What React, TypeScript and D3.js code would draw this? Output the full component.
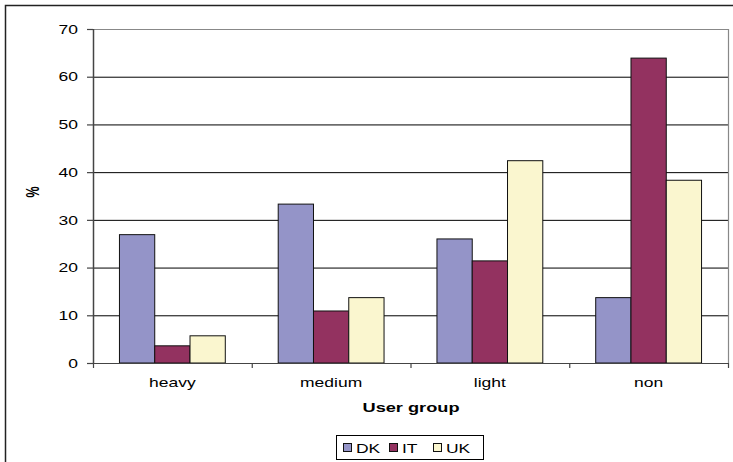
import React from "react";
import * as d3 from "d3";

const categories = ["heavy", "medium", "light", "non"];
const seriesNames = ["DK", "IT", "UK"];
const dkValues = [26.9, 33.3, 26.0, 13.7];
const itValues = [3.6, 10.9, 21.4, 63.9];
const ukValues = [5.7, 13.7, 42.4, 38.3];
const yTicks = [0, 10, 20, 30, 40, 50, 60, 70];
const colors = ["#9494C8", "#933260", "#FAF6CF"];

const W = 733;
const H = 462;
const plot = { left: 93, right: 728, top: 29, bottom: 363 };
const SX = 1.4;
const FONT = "Arial, 'Liberation Sans', sans-serif";

export default function App() {
  const series = [dkValues, itValues, ukValues];
  const x0 = d3
    .scaleBand<string>()
    .domain(categories)
    .range([plot.left, plot.right])
    .paddingInner(0)
    .paddingOuter(0);
  const bw = x0.bandwidth();
  const barW = bw / 4.5;
  const groupOffset = (bw - barW * 3) / 2;
  const y = d3.scaleLinear().domain([0, 70]).range([plot.bottom, plot.top]);

  const txt = (
    x: number,
    yy: number,
    s: string,
    opts: { anchor?: string; size?: number; bold?: boolean; rotate?: boolean; sx?: number } = {}
  ) => (
    <text
      transform={`translate(${x},${yy}) scale(${opts.sx || SX},1)${opts.rotate ? " rotate(-90)" : ""}`}
      textAnchor={opts.anchor || "middle"}
      fontSize={opts.size || 12}
      fontWeight={opts.bold ? "bold" : "normal"}
      fontFamily={FONT}
      fill="#000"
    >
      {s}
    </text>
  );

  // legend layout
  const legendX = 336;
  const legendY = 435;
  const legendItems = [
    { sq: 343, tx: 356 },
    { sq: 389, tx: 402 },
    { sq: 433, tx: 446 },
  ];

  return (
    <div style={{ position: "absolute", left: 0, top: 0 }}>
      <svg width={W} height={H} style={{ display: "block", background: "#fff" }}>
        <rect x={5.5} y={5.5} width={760} height={500} fill="#fff" stroke="#222" strokeWidth={1.5} />
        {/* gridlines */}
        {yTicks.slice(1, -1).map((t) => (
          <line key={t} x1={plot.left} x2={plot.right} y1={y(t) + 0.5} y2={y(t) + 0.5} stroke="#000" strokeWidth={1} />
        ))}
        {/* plot area top/right border */}
        <line x1={plot.left} x2={plot.right} y1={y(70) + 0.5} y2={y(70) + 0.5} stroke="#888" strokeWidth={1.2} />
        <line x1={plot.right + 0.5} x2={plot.right + 0.5} y1={plot.top} y2={plot.bottom} stroke="#888" strokeWidth={1.2} />
        {/* bars */}
        {categories.map((c, ci) =>
          series.map((vals, si) => {
            const bx = (x0(c) as number) + groupOffset + si * barW;
            const by = y(vals[ci]);
            return (
              <rect
                key={c + si}
                x={bx}
                y={by}
                width={barW}
                height={plot.bottom - by}
                fill={colors[si]}
                stroke="#111"
                strokeWidth={1}
              />
            );
          })
        )}
        {/* axes */}
        <line x1={plot.left + 0.5} x2={plot.left + 0.5} y1={plot.top} y2={plot.bottom} stroke="#444" strokeWidth={1.5} />
        <line x1={plot.left - 6} x2={plot.right + 1} y1={plot.bottom + 0.5} y2={plot.bottom + 0.5} stroke="#444" strokeWidth={1.2} />
        {yTicks.map((t) => (
          <g key={"yt" + t}>
            <line x1={plot.left - 6} x2={plot.left} y1={y(t) + 0.5} y2={y(t) + 0.5} stroke="#444" strokeWidth={1.2} />
            {txt(plot.left - 15, y(t) + 4.7, String(t), { anchor: "end", size: 12.5 })}
          </g>
        ))}
        {[...categories.map((c) => x0(c) as number), plot.right].map((xx, i) => (
          <line key={"xt" + i} x1={xx + 0.5} x2={xx + 0.5} y1={plot.bottom} y2={plot.bottom + 5} stroke="#444" strokeWidth={1.2} />
        ))}
        {categories.map((c) => (
          <g key={"xl" + c}>{txt((x0(c) as number) + bw / 2, 386.5, c, { size: 12.5 })}</g>
        ))}
        {txt(411, 412, "User group", { size: 13, bold: true })}
        {txt(39, 192, "%", { size: 12.5, bold: true, rotate: true })}
        {/* legend */}
        <rect x={legendX + 0.5} y={legendY + 0.5} width={147} height={24} fill="#fff" stroke="#000" strokeWidth={1} />
        {seriesNames.map((n, i) => (
          <g key={n}>
            <rect x={legendItems[i].sq + 0.5} y={443.5} width={8} height={8} fill={colors[i]} stroke="#111" strokeWidth={1} />
            {txt(legendItems[i].tx, 452.5, n, { anchor: "start", size: 12.5, sx: 1.4 })}
          </g>
        ))}
      </svg>
    </div>
  );
}
